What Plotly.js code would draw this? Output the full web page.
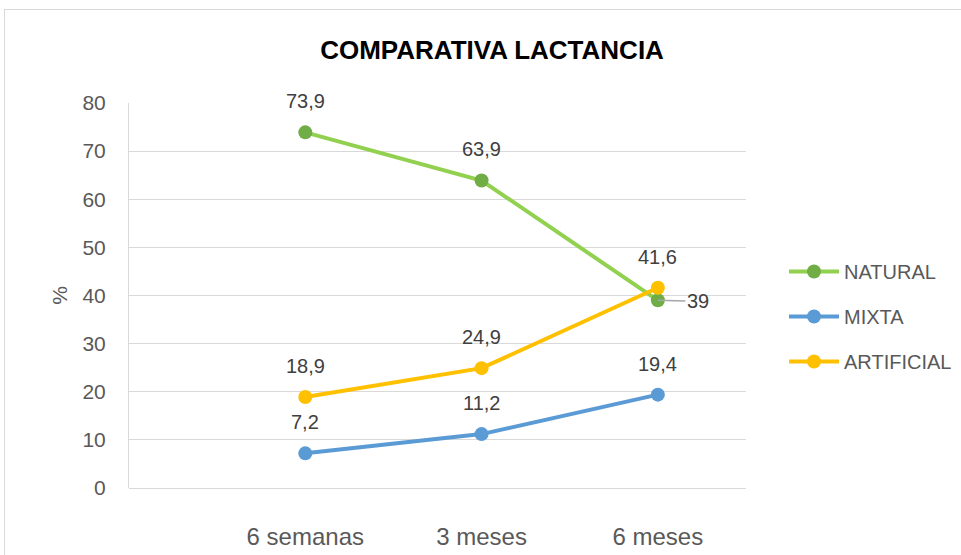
<!DOCTYPE html>
<html>
<head>
<meta charset="utf-8">
<script src="https://cdn.plot.ly/plotly-3.0.1.min.js"></script>
<style>
  html, body { margin: 0; padding: 0; background: #ffffff; }
  #frame { position: absolute; left: 4px; top: 9px; width: 1000px; height: 600px; border: 1px solid #d9d9d9; box-sizing: border-box; }
  #chart { position: absolute; left: 0; top: 0; width: 961px; height: 555px; }
</style>
</head>
<body>
<div id="frame"></div>
<div id="chart"></div>
<script>
const categories = ["6 semanas", "3 meses", "6 meses"];
const seriesNames = ["NATURAL", "MIXTA", "ARTIFICIAL"];
const natural = [73.9, 63.9, 39];
const mixta = [7.2, 11.2, 19.4];
const artificial = [18.9, 24.9, 41.6];
const yTicks = [0, 10, 20, 30, 40, 50, 60, 70, 80];

const FONT = "Liberation Sans, Arial, sans-serif";
const lineColors = ["#92D050", "#5B9BD5", "#FFC000"];
const markerColors = ["#70AD47", "#5B9BD5", "#FFC000"];
const allValues = [natural, mixta, artificial];

const fmt = v => String(v).replace(".", ",");

const traces = allValues.map((vals, i) => ({
  type: "scatter",
  mode: "lines+markers",
  name: seriesNames[i],
  legendgroup: seriesNames[i],
  x: categories,
  y: vals,
  line: { color: lineColors[i], width: 4 },
  marker: { color: markerColors[i], size: 14 },
  hoverinfo: "skip"
}));

const annotations = [];
allValues.forEach((vals, i) => {
  vals.forEach((v, j) => {
    const isSide = (i === 0 && j === 2);
    if (isSide) {
      annotations.push({
        x: categories[j], y: v, xref: "x", yref: "y",
        text: fmt(v), showarrow: true, arrowhead: 0, arrowwidth: 1.5,
        arrowcolor: "#A6A6A6", ax: 40, ay: 1, standoff: 0,
        font: { family: FONT, size: 20, color: "#404040" }
      });
    } else {
      annotations.push({
        x: categories[j], y: v, xref: "x", yref: "y",
        text: fmt(v), showarrow: false, yshift: 31,
        font: { family: FONT, size: 20, color: "#404040" }
      });
    }
  });
});

const layout = {
  width: 961, height: 555,
  paper_bgcolor: "rgba(0,0,0,0)",
  plot_bgcolor: "rgba(0,0,0,0)",
  margin: { l: 129, r: 215, t: 103, b: 67, autoexpand: false },
  font: { family: FONT, size: 20, color: "#595959" },
  title: {
    text: "<b>COMPARATIVA LACTANCIA</b>",
    font: { family: FONT, size: 26, color: "#000000" },
    xref: "container", yref: "container",
    x: 0.512, xanchor: "center", y: 1 - 50 / 555, yanchor: "middle"
  },
  xaxis: {
    type: "category",
    categoryorder: "array",
    categoryarray: categories,
    range: [-1, 2.5],
    showgrid: false,
    zeroline: false,
    showline: false,
    ticks: "",
    ticklabelstandoff: 32,
    tickfont: { family: FONT, size: 24, color: "#595959" },
    fixedrange: true
  },
  yaxis: {
    range: [0, 80],
    tickvals: yTicks,
    ticktext: yTicks.map(String),
    showgrid: true,
    gridcolor: "#D9D9D9",
    gridwidth: 1,
    zeroline: true,
    zerolinecolor: "#D9D9D9",
    zerolinewidth: 1,
    showline: true,
    linecolor: "#D9D9D9",
    linewidth: 1,
    ticks: "",
    ticklabelstandoff: 18,
    tickfont: { family: FONT, size: 21, color: "#595959" },
    title: { text: "%", font: { family: FONT, size: 21, color: "#595959" }, standoff: 9 },
    fixedrange: true
  },
  showlegend: true,
  legend: {
    xref: "container", yref: "container",
    x: 784 / 961, xanchor: "left",
    y: 1 - 252 / 555, yanchor: "top",
    font: { family: FONT, size: 20, color: "#595959" },
    tracegroupgap: 16,
    itemwidth: 50,
    bgcolor: "rgba(0,0,0,0)"
  },
  annotations: annotations
};

Plotly.newPlot("chart", traces, layout, { displayModeBar: false, staticPlot: true });
</script>
</body>
</html>
